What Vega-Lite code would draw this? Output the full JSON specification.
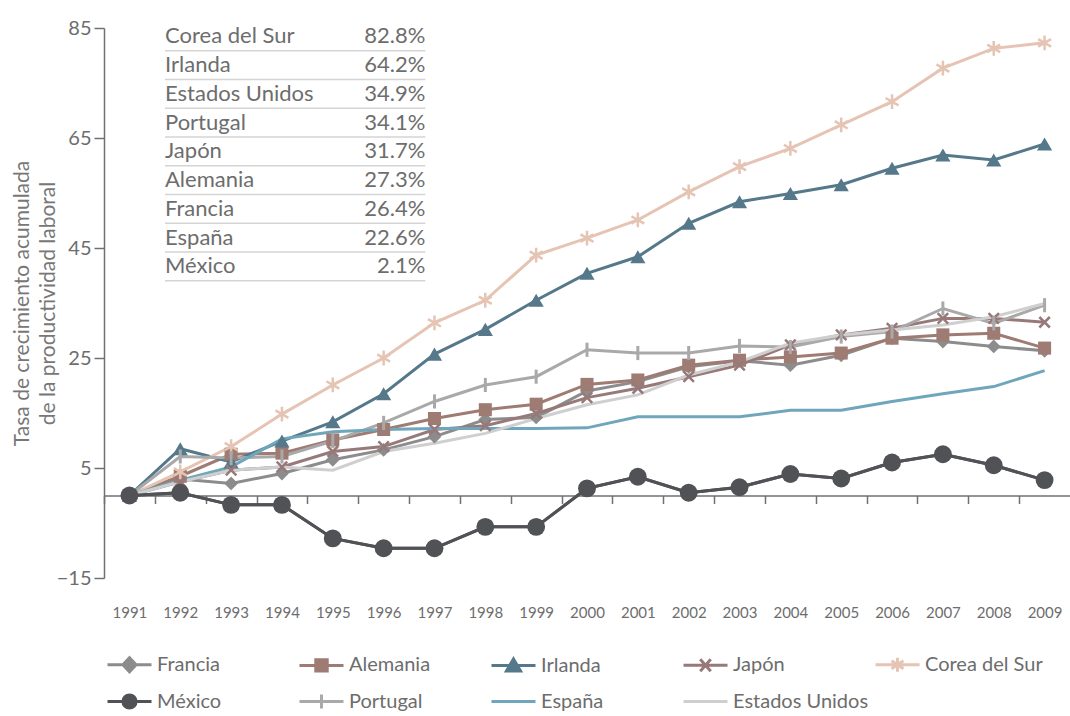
{
  "$schema": "https://vega.github.io/schema/vega-lite/v6.json",
  "width": 966,
  "height": 550,
  "autosize": {"type": "none"},
  "padding": {"left": 104, "top": 28, "right": 0, "bottom": 138},
  "background": "white",
  "config": {
    "view": {"stroke": null},
    "font": "Lato",
    "axis": {"grid": false, "domainColor": "#707070", "tickColor": "#707070", "domainWidth": 1.5, "tickWidth": 1.5, "labelColor": "#6d6d6d", "labelFont": "Lato", "titleFont": "Lato"}
  },
  "layer": [
    {
      "data": {"values": [
        {"pais": "Francia", "anio": 1991, "valor": 0}, {"pais": "Francia", "anio": 1992, "valor": 3.0}, {"pais": "Francia", "anio": 1993, "valor": 2.2}, {"pais": "Francia", "anio": 1994, "valor": 4.0}, {"pais": "Francia", "anio": 1995, "valor": 6.5}, {"pais": "Francia", "anio": 1996, "valor": 8.3}, {"pais": "Francia", "anio": 1997, "valor": 10.7}, {"pais": "Francia", "anio": 1998, "valor": 13.8}, {"pais": "Francia", "anio": 1999, "valor": 14.2}, {"pais": "Francia", "anio": 2000, "valor": 19.0}, {"pais": "Francia", "anio": 2001, "valor": 20.7}, {"pais": "Francia", "anio": 2002, "valor": 23.4}, {"pais": "Francia", "anio": 2003, "valor": 24.5}, {"pais": "Francia", "anio": 2004, "valor": 23.7}, {"pais": "Francia", "anio": 2005, "valor": 25.5}, {"pais": "Francia", "anio": 2006, "valor": 28.6}, {"pais": "Francia", "anio": 2007, "valor": 28.0}, {"pais": "Francia", "anio": 2008, "valor": 27.1}, {"pais": "Francia", "anio": 2009, "valor": 26.3},
        {"pais": "Alemania", "anio": 1991, "valor": 0}, {"pais": "Alemania", "anio": 1992, "valor": 3.5}, {"pais": "Alemania", "anio": 1993, "valor": 7.5}, {"pais": "Alemania", "anio": 1994, "valor": 7.7}, {"pais": "Alemania", "anio": 1995, "valor": 10.1}, {"pais": "Alemania", "anio": 1996, "valor": 12.0}, {"pais": "Alemania", "anio": 1997, "valor": 14.0}, {"pais": "Alemania", "anio": 1998, "valor": 15.6}, {"pais": "Alemania", "anio": 1999, "valor": 16.6}, {"pais": "Alemania", "anio": 2000, "valor": 20.2}, {"pais": "Alemania", "anio": 2001, "valor": 21.0}, {"pais": "Alemania", "anio": 2002, "valor": 23.7}, {"pais": "Alemania", "anio": 2003, "valor": 24.6}, {"pais": "Alemania", "anio": 2004, "valor": 25.2}, {"pais": "Alemania", "anio": 2005, "valor": 25.9}, {"pais": "Alemania", "anio": 2006, "valor": 28.6}, {"pais": "Alemania", "anio": 2007, "valor": 29.2}, {"pais": "Alemania", "anio": 2008, "valor": 29.5}, {"pais": "Alemania", "anio": 2009, "valor": 26.8},
        {"pais": "Irlanda", "anio": 1991, "valor": 0}, {"pais": "Irlanda", "anio": 1992, "valor": 8.5}, {"pais": "Irlanda", "anio": 1993, "valor": 6.1}, {"pais": "Irlanda", "anio": 1994, "valor": 9.9}, {"pais": "Irlanda", "anio": 1995, "valor": 13.4}, {"pais": "Irlanda", "anio": 1996, "valor": 18.5}, {"pais": "Irlanda", "anio": 1997, "valor": 25.7}, {"pais": "Irlanda", "anio": 1998, "valor": 30.2}, {"pais": "Irlanda", "anio": 1999, "valor": 35.5}, {"pais": "Irlanda", "anio": 2000, "valor": 40.4}, {"pais": "Irlanda", "anio": 2001, "valor": 43.4}, {"pais": "Irlanda", "anio": 2002, "valor": 49.5}, {"pais": "Irlanda", "anio": 2003, "valor": 53.4}, {"pais": "Irlanda", "anio": 2004, "valor": 54.9}, {"pais": "Irlanda", "anio": 2005, "valor": 56.5}, {"pais": "Irlanda", "anio": 2006, "valor": 59.5}, {"pais": "Irlanda", "anio": 2007, "valor": 61.9}, {"pais": "Irlanda", "anio": 2008, "valor": 61.0}, {"pais": "Irlanda", "anio": 2009, "valor": 63.9},
        {"pais": "Japón", "anio": 1991, "valor": 0}, {"pais": "Japón", "anio": 1992, "valor": 2.5}, {"pais": "Japón", "anio": 1993, "valor": 4.6}, {"pais": "Japón", "anio": 1994, "valor": 5.2}, {"pais": "Japón", "anio": 1995, "valor": 8.0}, {"pais": "Japón", "anio": 1996, "valor": 8.9}, {"pais": "Japón", "anio": 1997, "valor": 12.0}, {"pais": "Japón", "anio": 1998, "valor": 12.7}, {"pais": "Japón", "anio": 1999, "valor": 14.9}, {"pais": "Japón", "anio": 2000, "valor": 17.8}, {"pais": "Japón", "anio": 2001, "valor": 19.5}, {"pais": "Japón", "anio": 2002, "valor": 21.6}, {"pais": "Japón", "anio": 2003, "valor": 23.7}, {"pais": "Japón", "anio": 2004, "valor": 27.4}, {"pais": "Japón", "anio": 2005, "valor": 29.2}, {"pais": "Japón", "anio": 2006, "valor": 30.4}, {"pais": "Japón", "anio": 2007, "valor": 32.2}, {"pais": "Japón", "anio": 2008, "valor": 32.2}, {"pais": "Japón", "anio": 2009, "valor": 31.5},
        {"pais": "Corea del Sur", "anio": 1991, "valor": 0}, {"pais": "Corea del Sur", "anio": 1992, "valor": 4.3}, {"pais": "Corea del Sur", "anio": 1993, "valor": 8.9}, {"pais": "Corea del Sur", "anio": 1994, "valor": 14.8}, {"pais": "Corea del Sur", "anio": 1995, "valor": 20.1}, {"pais": "Corea del Sur", "anio": 1996, "valor": 25.0}, {"pais": "Corea del Sur", "anio": 1997, "valor": 31.4}, {"pais": "Corea del Sur", "anio": 1998, "valor": 35.5}, {"pais": "Corea del Sur", "anio": 1999, "valor": 43.7}, {"pais": "Corea del Sur", "anio": 2000, "valor": 46.8}, {"pais": "Corea del Sur", "anio": 2001, "valor": 50.1}, {"pais": "Corea del Sur", "anio": 2002, "valor": 55.2}, {"pais": "Corea del Sur", "anio": 2003, "valor": 59.8}, {"pais": "Corea del Sur", "anio": 2004, "valor": 63.1}, {"pais": "Corea del Sur", "anio": 2005, "valor": 67.4}, {"pais": "Corea del Sur", "anio": 2006, "valor": 71.6}, {"pais": "Corea del Sur", "anio": 2007, "valor": 77.7}, {"pais": "Corea del Sur", "anio": 2008, "valor": 81.3}, {"pais": "Corea del Sur", "anio": 2009, "valor": 82.3},
        {"pais": "México", "anio": 1991, "valor": 0}, {"pais": "México", "anio": 1992, "valor": 0.5}, {"pais": "México", "anio": 1993, "valor": -1.7}, {"pais": "México", "anio": 1994, "valor": -1.7}, {"pais": "México", "anio": 1995, "valor": -7.8}, {"pais": "México", "anio": 1996, "valor": -9.6}, {"pais": "México", "anio": 1997, "valor": -9.6}, {"pais": "México", "anio": 1998, "valor": -5.7}, {"pais": "México", "anio": 1999, "valor": -5.7}, {"pais": "México", "anio": 2000, "valor": 1.3}, {"pais": "México", "anio": 2001, "valor": 3.4}, {"pais": "México", "anio": 2002, "valor": 0.5}, {"pais": "México", "anio": 2003, "valor": 1.5}, {"pais": "México", "anio": 2004, "valor": 3.9}, {"pais": "México", "anio": 2005, "valor": 3.1}, {"pais": "México", "anio": 2006, "valor": 6.0}, {"pais": "México", "anio": 2007, "valor": 7.5}, {"pais": "México", "anio": 2008, "valor": 5.5}, {"pais": "México", "anio": 2009, "valor": 2.8},
        {"pais": "Portugal", "anio": 1991, "valor": 0}, {"pais": "Portugal", "anio": 1992, "valor": 7.1}, {"pais": "Portugal", "anio": 1993, "valor": 6.8}, {"pais": "Portugal", "anio": 1994, "valor": 7.1}, {"pais": "Portugal", "anio": 1995, "valor": 9.9}, {"pais": "Portugal", "anio": 1996, "valor": 13.2}, {"pais": "Portugal", "anio": 1997, "valor": 17.1}, {"pais": "Portugal", "anio": 1998, "valor": 20.1}, {"pais": "Portugal", "anio": 1999, "valor": 21.6}, {"pais": "Portugal", "anio": 2000, "valor": 26.5}, {"pais": "Portugal", "anio": 2001, "valor": 25.9}, {"pais": "Portugal", "anio": 2002, "valor": 25.9}, {"pais": "Portugal", "anio": 2003, "valor": 27.2}, {"pais": "Portugal", "anio": 2004, "valor": 27.0}, {"pais": "Portugal", "anio": 2005, "valor": 28.9}, {"pais": "Portugal", "anio": 2006, "valor": 29.8}, {"pais": "Portugal", "anio": 2007, "valor": 34.0}, {"pais": "Portugal", "anio": 2008, "valor": 31.3}, {"pais": "Portugal", "anio": 2009, "valor": 34.6},
        {"pais": "España", "anio": 1991, "valor": 0}, {"pais": "España", "anio": 1992, "valor": 2.8}, {"pais": "España", "anio": 1993, "valor": 5.2}, {"pais": "España", "anio": 1994, "valor": 10.3}, {"pais": "España", "anio": 1995, "valor": 11.6}, {"pais": "España", "anio": 1996, "valor": 12.0}, {"pais": "España", "anio": 1997, "valor": 12.2}, {"pais": "España", "anio": 1998, "valor": 12.2}, {"pais": "España", "anio": 1999, "valor": 12.2}, {"pais": "España", "anio": 2000, "valor": 12.3}, {"pais": "España", "anio": 2001, "valor": 14.3}, {"pais": "España", "anio": 2002, "valor": 14.3}, {"pais": "España", "anio": 2003, "valor": 14.3}, {"pais": "España", "anio": 2004, "valor": 15.5}, {"pais": "España", "anio": 2005, "valor": 15.5}, {"pais": "España", "anio": 2006, "valor": 17.1}, {"pais": "España", "anio": 2007, "valor": 18.5}, {"pais": "España", "anio": 2008, "valor": 19.8}, {"pais": "España", "anio": 2009, "valor": 22.7},
        {"pais": "Estados Unidos", "anio": 1991, "valor": 0}, {"pais": "Estados Unidos", "anio": 1992, "valor": 2.5}, {"pais": "Estados Unidos", "anio": 1993, "valor": 4.6}, {"pais": "Estados Unidos", "anio": 1994, "valor": 5.2}, {"pais": "Estados Unidos", "anio": 1995, "valor": 4.6}, {"pais": "Estados Unidos", "anio": 1996, "valor": 8.0}, {"pais": "Estados Unidos", "anio": 1997, "valor": 9.5}, {"pais": "Estados Unidos", "anio": 1998, "valor": 11.3}, {"pais": "Estados Unidos", "anio": 1999, "valor": 14.0}, {"pais": "Estados Unidos", "anio": 2000, "valor": 16.5}, {"pais": "Estados Unidos", "anio": 2001, "valor": 18.3}, {"pais": "Estados Unidos", "anio": 2002, "valor": 21.9}, {"pais": "Estados Unidos", "anio": 2003, "valor": 24.3}, {"pais": "Estados Unidos", "anio": 2004, "valor": 27.7}, {"pais": "Estados Unidos", "anio": 2005, "valor": 29.2}, {"pais": "Estados Unidos", "anio": 2006, "valor": 30.1}, {"pais": "Estados Unidos", "anio": 2007, "valor": 31.0}, {"pais": "Estados Unidos", "anio": 2008, "valor": 32.5}, {"pais": "Estados Unidos", "anio": 2009, "valor": 34.9}
      ]},
      "encoding": {
        "x": {
          "field": "anio", "type": "quantitative", "title": null,
          "scale": {"domain": [1990.5, 2009.5], "nice": false, "zero": false},
          "axis": {
            "orient": "bottom", "offset": -82.5,
            "values": [1991, 1992, 1993, 1994, 1995, 1996, 1997, 1998, 1999, 2000, 2001, 2002, 2003, 2004, 2005, 2006, 2007, 2008, 2009],
            "format": "d", "tickOffset": -25.42, "labelOffset": 25.42, "tickSize": 8,
            "labelPadding": 102, "labelFontSize": 15, "labelFlush": false, "labelOverlap": false, "labelBound": false
          }
        },
        "y": {
          "field": "valor", "type": "quantitative",
          "scale": {"domain": [-15, 85], "nice": false, "zero": false},
          "axis": {
            "values": [-15, 5, 25, 45, 65, 85], "tickSize": 10, "labelFontSize": 20, "labelPadding": 3,
            "title": ["Tasa de crecimiento acumulada", "de la productividad laboral"],
            "titleFontSize": 21, "titleFontWeight": "normal", "titleColor": "#777777", "titlePadding": -2, "titleLineHeight": 26
          }
        }
      },
      "layer": [
        {"mark": {"type": "line", "strokeWidth": 3},
         "encoding": {"stroke": {"field": "pais", "type": "nominal", "legend": null,
           "scale": {"domain": ["Estados Unidos", "España", "Portugal", "México", "Corea del Sur", "Japón", "Irlanda", "Alemania", "Francia"], "range": ["#cfcfcf", "#6fa6bb", "#a9a9a9", "#505256", "#e6c4b4", "#98797a", "#55798a", "#9e7b73", "#8c8c8c"]}}}},
        {"transform": [{"filter": "datum.pais === 'Francia'"}], "mark": {"type": "point", "shape": "diamond", "filled": true, "size": 190, "opacity": 1, "color": "#8c8c8c"}},
        {"transform": [{"filter": "datum.pais === 'Alemania'"}], "mark": {"type": "point", "shape": "square", "filled": true, "size": 170, "opacity": 1, "color": "#9e7b73"}},
        {"transform": [{"filter": "datum.pais === 'Irlanda'"}], "mark": {"type": "point", "shape": "triangle-up", "filled": true, "size": 230, "opacity": 1, "color": "#55798a"}},
        {"transform": [{"filter": "datum.pais === 'Japón'"}], "mark": {"type": "point", "shape": "M-1,-1L1,1M-1,1L1,-1", "filled": false, "size": 110, "strokeWidth": 2.5, "opacity": 1, "color": "#98797a"}},
        {"transform": [{"filter": "datum.pais === 'Corea del Sur'"}], "mark": {"type": "point", "shape": "M0,-1V1M-0.87,-0.5L0.87,0.5M-0.87,0.5L0.87,-0.5", "filled": false, "size": 220, "strokeWidth": 2.5, "opacity": 1, "color": "#e6c4b4"}},
        {"transform": [{"filter": "datum.pais === 'Portugal'"}], "mark": {"type": "point", "shape": "M0,-1V1", "filled": false, "size": 200, "strokeWidth": 3, "opacity": 1, "color": "#a9a9a9"}},
        {"transform": [{"filter": "datum.pais === 'México'"}], "mark": {"type": "line", "strokeWidth": 3, "color": "#505256"}},
        {"transform": [{"filter": "datum.pais === 'México'"}], "mark": {"type": "point", "shape": "circle", "filled": true, "size": 320, "opacity": 1, "color": "#505256"}},
        {
          "mark": {"type": "point", "filled": true, "opacity": 0},
          "encoding": {
            "color": {
              "field": "pais", "type": "nominal",
              "scale": {"domain": ["Francia", "Alemania", "Irlanda", "Japón", "Corea del Sur", "México", "Portugal", "España", "Estados Unidos"], "range": ["#8c8c8c", "#9e7b73", "#55798a", "#98797a", "#e6c4b4", "#505256", "#a9a9a9", "#6fa6bb", "#cfcfcf"]},
              "legend": {
                "orient": "none", "legendX": 2, "legendY": 613, "direction": "horizontal", "columns": 5, "gridAlign": "all",
                "title": null, "symbolSize": 1936, "symbolStrokeWidth": 3, "labelFontSize": 20, "labelFont": "Lato", "labelColor": "#6d6d6d",
                "labelOffset": 4, "columnPadding": 0, "rowPadding": -4,
                "encode": {"symbols": {"update": {"fill": {"scale": "color", "field": "value"}, "stroke": {"scale": "color", "field": "value"}, "strokeWidth": {"value": 3}, "opacity": {"value": 1}}}}
              }
            },
            "shape": {
              "field": "pais", "type": "nominal",
              "scale": {
                "domain": ["Francia", "Alemania", "Irlanda", "Japón", "Corea del Sur", "México", "Portugal", "España", "Estados Unidos"],
                "range": [
                  "M-1,0H1M0,-0.32L0.3,0L0,0.32L-0.3,0Z",
                  "M-1,0H1M-0.26,-0.26H0.26V0.26H-0.26Z",
                  "M-1,0H1M0,-0.3L0.32,0.24H-0.32Z",
                  "M-1,0H1M-0.24,-0.27L0.24,0.27M-0.24,0.27L0.24,-0.27",
                  "M-1,0H1M0,-0.32V0.32M-0.27,-0.18L0.27,0.18M-0.27,0.18L0.27,-0.18",
                  "M-1,0H1M-0.3,0A0.3,0.3,0,1,0,0.3,0A0.3,0.3,0,1,0,-0.3,0Z",
                  "M-1,0H1M0,-0.32V0.32",
                  "M-1,0H1",
                  "M-1,0H1"
                ]
              },
              "legend": {
                "orient": "none", "legendX": 2, "legendY": 613, "direction": "horizontal", "columns": 5, "gridAlign": "all",
                "title": null, "symbolSize": 1936, "symbolStrokeWidth": 3, "labelFontSize": 20, "labelFont": "Lato", "labelColor": "#6d6d6d",
                "labelOffset": 4, "columnPadding": 0, "rowPadding": -4,
                "encode": {"symbols": {"update": {"fill": {"scale": "color", "field": "value"}, "stroke": {"scale": "color", "field": "value"}, "strokeWidth": {"value": 3}, "opacity": {"value": 1}}}}
              }
            }
          }
        }
      ]
    },
    {
      "data": {"values": [
        {"pais": "Corea del Sur", "pct": "82.8%"},
        {"pais": "Irlanda", "pct": "64.2%"},
        {"pais": "Estados Unidos", "pct": "34.9%"},
        {"pais": "Portugal", "pct": "34.1%"},
        {"pais": "Japón", "pct": "31.7%"},
        {"pais": "Alemania", "pct": "27.3%"},
        {"pais": "Francia", "pct": "26.4%"},
        {"pais": "España", "pct": "22.6%"},
        {"pais": "México", "pct": "2.1%"}
      ]},
      "encoding": {
        "y": {"field": "pais", "type": "nominal", "title": null, "axis": null,
          "sort": ["Corea del Sur", "Irlanda", "Estados Unidos", "Portugal", "Japón", "Alemania", "Francia", "España", "México"],
          "scale": {"type": "band", "range": [-6, 252.7], "paddingInner": 0, "paddingOuter": 0}}
      },
      "layer": [
        {"mark": {"type": "text", "align": "left", "baseline": "middle", "fontSize": 22, "font": "Lato", "color": "#6d6d6d"},
         "encoding": {"x": {"datum": 1991.70, "type": "quantitative", "title": null}, "text": {"field": "pais", "type": "nominal"}}},
        {"mark": {"type": "text", "align": "right", "baseline": "middle", "fontSize": 22, "font": "Lato", "color": "#6d6d6d"},
         "encoding": {"x": {"datum": 1996.82, "type": "quantitative", "title": null}, "text": {"field": "pct", "type": "nominal"}}},
        {"mark": {"type": "rule", "strokeWidth": 1.5, "color": "#d4d4d4"},
         "encoding": {
           "x": {"datum": 1991.70, "type": "quantitative", "title": null},
           "x2": {"datum": 1996.82},
           "y": {"field": "pais", "type": "nominal", "title": null, "axis": null, "bandPosition": 1,
             "sort": ["Corea del Sur", "Irlanda", "Estados Unidos", "Portugal", "Japón", "Alemania", "Francia", "España", "México"],
             "scale": {"type": "band", "range": [-6, 252.7], "paddingInner": 0, "paddingOuter": 0}}
         }}
      ]
    }
  ],
  "resolve": {"scale": {"y": "independent"}}
}
